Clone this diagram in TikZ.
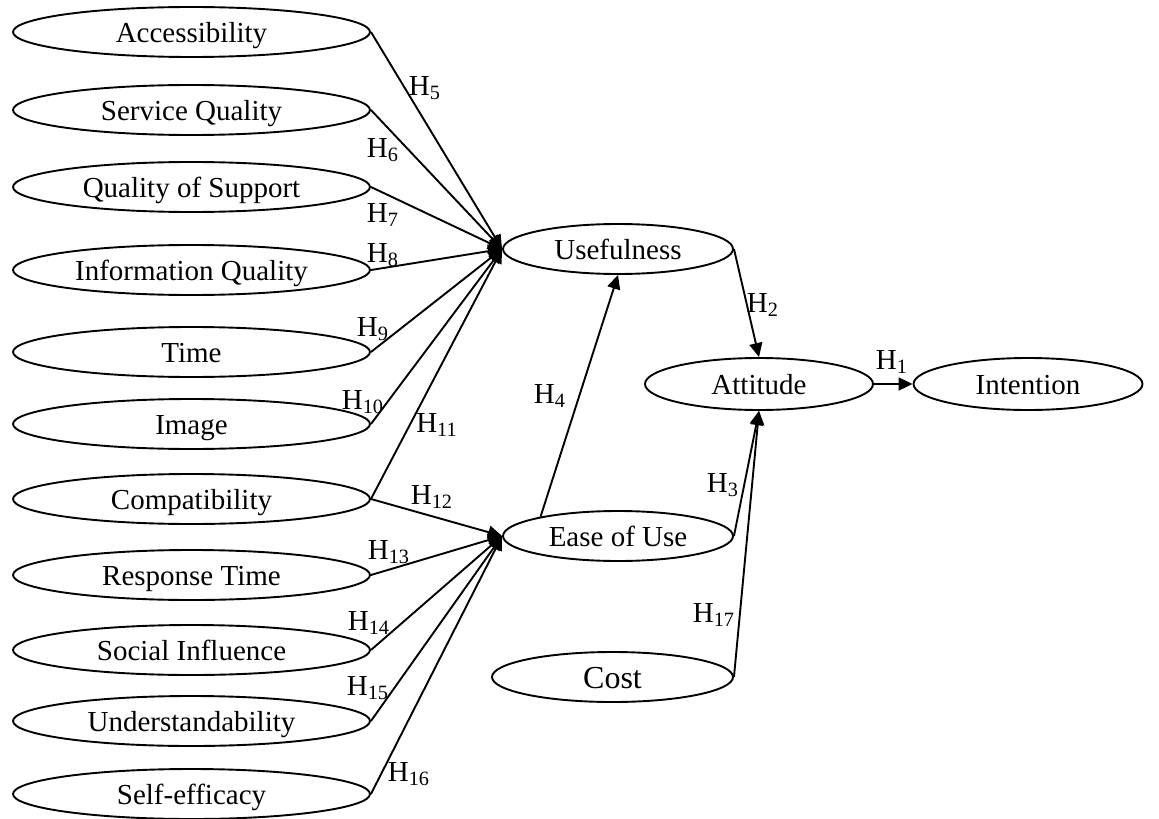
\documentclass[tikz,border=0pt]{standalone}
\usepackage{fontspec}
\setmainfont{Liberation Serif}
\usetikzlibrary{shapes.geometric,arrows.meta}
\begin{document}
\begin{tikzpicture}[x=0.5pt,y=-0.5pt,
  construct/.style={ellipse, draw, line width=0.95pt, inner sep=0pt,
    text height=11pt, text depth=0.5pt,
    font=\fontsize{14.5}{17}\selectfont},
  leftbox/.style={construct, minimum width=178.5pt, minimum height=25pt},
  midbox/.style={construct, minimum width=115pt, minimum height=25pt},
  effect/.style={line width=0.95pt, -{Triangle[length=7pt,width=6.5pt]}},
  hyp/.style={inner sep=0pt, font=\fontsize{14.5}{17}\selectfont}]
\useasboundingbox (0,0) rectangle (1159,818);

% antecedent constructs
\node[leftbox] (acc)  at (191.5,32)  {Accessibility};
\node[leftbox] (svc)  at (191.5,110) {Service Quality};
\node[leftbox] (qos)  at (191.5,187) {Quality of Support};
\node[leftbox] (iq)   at (191.5,270) {Information Quality};
\node[leftbox] (tim)  at (191.5,352) {Time};
\node[leftbox] (img)  at (191.5,424) {Image};
\node[leftbox] (comp) at (191.5,499) {Compatibility};
\node[leftbox] (rt)   at (191.5,575) {Response Time};
\node[leftbox] (si)   at (191.5,650) {Social Influence};
\node[leftbox] (und)  at (191.5,721) {Understandability};
\node[leftbox] (sef)  at (191.5,794) {Self-efficacy};

% core model
\node[midbox] (use)  at (618,249) {Usefulness};
\node[midbox] (eou)  at (618,536) {Ease of Use};
\node[construct, minimum width=120.5pt, minimum height=25pt,
      text height=11.5pt, font=\fontsize{16}{19}\selectfont] (cost) at (612.5,677) {Cost};
\node[construct, minimum width=114pt, minimum height=26pt] (att) at (759,384) {Attitude};
\node[construct, minimum width=114.5pt, minimum height=26pt] (int) at (1028,384) {Intention};

% paths into usefulness
\draw[effect] (acc.east)  -- (use.west);
\draw[effect] (svc.east)  -- (use.west);
\draw[effect] (qos.east)  -- (use.west);
\draw[effect] (iq.east)   -- (use.west);
\draw[effect] (tim.east)  -- (use.west);
\draw[effect] (img.east)  -- (use.west);
\draw[effect] (comp.east) -- (use.west);

% paths into ease of use
\draw[effect] (comp.east) -- (eou.west);
\draw[effect] (rt.east)   -- (eou.west);
\draw[effect] (si.east)   -- (eou.west);
\draw[effect] (und.east)  -- (eou.west);
\draw[effect] (sef.east)  -- (eou.west);

% remaining paths
\draw[effect] (eou.166)   -- (use.south);
\draw[effect] (use.east)  -- (att.north);
\draw[effect] (eou.east)  -- (att.south);
\draw[effect] (cost.east) -- (att.south);
\draw[effect] (att.east)  -- (int.west);

% hypothesis labels
\node[hyp] (h5)  at (425,88)  {H\textsubscript{5}};
\node[hyp] (h6)  at (383,150) {H\textsubscript{6}};
\node[hyp] (h7)  at (383,215) {H\textsubscript{7}};
\node[hyp] (h8)  at (383,255) {H\textsubscript{8}};
\node[hyp] (h9)  at (373,329) {H\textsubscript{9}};
\node[hyp] (h10) at (363,402) {H\textsubscript{10}};
\node[hyp] (h11) at (437,425) {H\textsubscript{11}};
\node[hyp] (h12) at (432,497) {H\textsubscript{12}};
\node[hyp] (h13) at (389,552) {H\textsubscript{13}};
\node[hyp] (h14) at (369,623) {H\textsubscript{14}};
\node[hyp] (h15) at (368,688) {H\textsubscript{15}};
\node[hyp] (h16) at (409,774) {H\textsubscript{16}};
\node[hyp] (h4)  at (550,396) {H\textsubscript{4}};
\node[hyp] (h2)  at (763,305) {H\textsubscript{2}};
\node[hyp] (h1)  at (892,362) {H\textsubscript{1}};
\node[hyp] (h3)  at (723,485) {H\textsubscript{3}};
\node[hyp] (h17) at (714,615) {H\textsubscript{17}};
\end{tikzpicture}
\end{document}
